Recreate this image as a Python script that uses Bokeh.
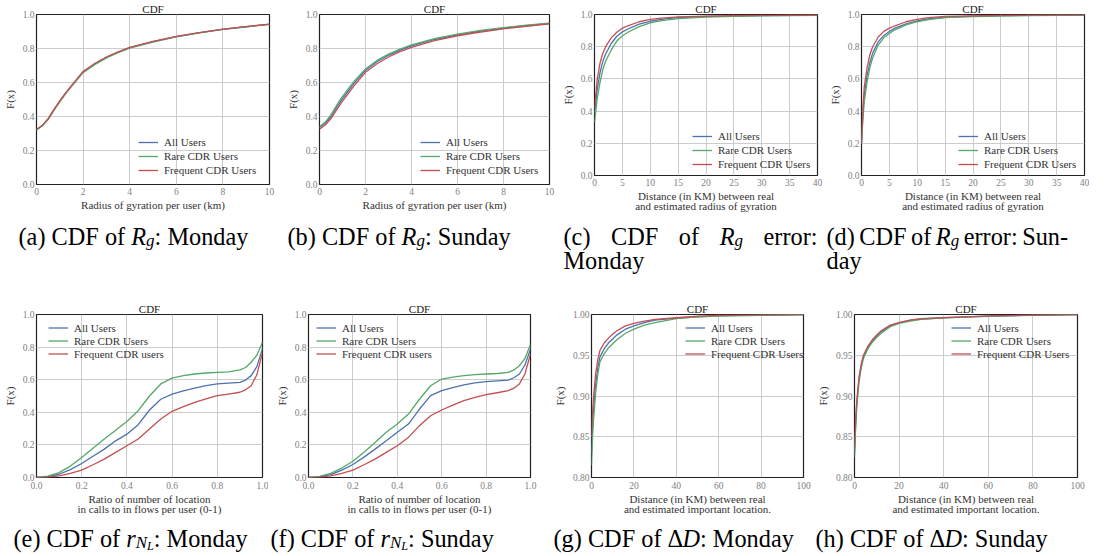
from bokeh.plotting import figure
from bokeh.models import Range1d, FixedTicker, PrintfTickFormatter, Legend, LegendItem
from bokeh.layouts import column, row
from bokeh.core.properties import value
from bokeh.embed import file_html
from bokeh.resources import INLINE

# ---------------- data ----------------
series_names = ["All Users", "Rare CDR Users", "Frequent CDR Users"]
series_names_ratio = ["All Users", "Rare CDR Users", "Frequent CDR users"]

rg_x = [0, 0.25, 0.5, 0.75, 1, 1.25, 1.5, 2, 2.5, 3, 3.5, 4, 5, 6, 7, 8, 9, 10]
rg_mon_all = [0.322, 0.347, 0.385, 0.44, 0.49, 0.537, 0.58, 0.663, 0.71, 0.748, 0.778, 0.805, 0.84, 0.87, 0.893, 0.913, 0.928, 0.942]
rg_mon_rare = [0.321, 0.345, 0.382, 0.436, 0.486, 0.533, 0.576, 0.658, 0.705, 0.744, 0.775, 0.802, 0.838, 0.868, 0.892, 0.912, 0.928, 0.942]
rg_mon_freq = [0.323, 0.348, 0.387, 0.442, 0.492, 0.539, 0.582, 0.665, 0.712, 0.75, 0.78, 0.807, 0.842, 0.871, 0.894, 0.914, 0.929, 0.943]
rg_sun_all = [0.335, 0.36, 0.40, 0.455, 0.505, 0.55, 0.595, 0.672, 0.722, 0.76, 0.79, 0.815, 0.853, 0.88, 0.902, 0.92, 0.935, 0.947]
rg_sun_rare = [0.34, 0.367, 0.41, 0.467, 0.518, 0.563, 0.606, 0.68, 0.73, 0.767, 0.797, 0.822, 0.858, 0.885, 0.906, 0.923, 0.937, 0.949]
rg_sun_freq = [0.325, 0.35, 0.388, 0.44, 0.49, 0.535, 0.58, 0.66, 0.71, 0.75, 0.782, 0.807, 0.846, 0.875, 0.897, 0.916, 0.931, 0.945]

err_x_mon = [0, 0.5, 1, 1.5, 2, 3, 4, 5, 6, 8, 10, 12, 15, 20, 25, 30, 40]
err_mon_all = [0.38, 0.54, 0.64, 0.71, 0.755, 0.82, 0.865, 0.892, 0.91, 0.94, 0.958, 0.97, 0.98, 0.988, 0.991, 0.993, 0.996]
err_mon_rare = [0.33, 0.48, 0.58, 0.66, 0.71, 0.78, 0.835, 0.868, 0.89, 0.925, 0.948, 0.962, 0.975, 0.984, 0.988, 0.991, 0.994]
err_mon_freq = [0.42, 0.60, 0.70, 0.76, 0.80, 0.855, 0.89, 0.915, 0.93, 0.955, 0.97, 0.978, 0.985, 0.99, 0.993, 0.995, 0.997]

err_x_sun = [0, 0.25, 0.5, 1, 1.5, 2, 3, 4, 5, 6, 8, 10, 12, 15, 20, 25, 30, 40]
err_sun_all = [0.2, 0.38, 0.5, 0.62, 0.70, 0.76, 0.83, 0.87, 0.895, 0.915, 0.942, 0.96, 0.972, 0.983, 0.99, 0.993, 0.995, 0.997]
err_sun_rare = [0.2, 0.35, 0.46, 0.58, 0.67, 0.73, 0.81, 0.855, 0.882, 0.905, 0.935, 0.955, 0.968, 0.98, 0.987, 0.99, 0.993, 0.996]
err_sun_freq = [0.2, 0.42, 0.55, 0.67, 0.75, 0.80, 0.86, 0.895, 0.915, 0.93, 0.955, 0.97, 0.98, 0.988, 0.992, 0.994, 0.996, 0.998]

ratio_x = [0, 0.05, 0.1, 0.15, 0.2, 0.25, 0.3, 0.35, 0.4, 0.45, 0.5, 0.55, 0.6, 0.65, 0.7, 0.75, 0.8, 0.85, 0.9, 0.925, 0.95, 0.975, 1.0]
ratio_mon_all = [0, 0.005, 0.02, 0.048, 0.086, 0.13, 0.174, 0.225, 0.266, 0.324, 0.414, 0.48, 0.512, 0.532, 0.549, 0.563, 0.574, 0.579, 0.584, 0.598, 0.625, 0.68, 0.79]
ratio_mon_rare = [0, 0.008, 0.03, 0.07, 0.123, 0.18, 0.236, 0.29, 0.344, 0.41, 0.50, 0.574, 0.61, 0.625, 0.635, 0.641, 0.645, 0.648, 0.66, 0.675, 0.707, 0.75, 0.83]
ratio_mon_freq = [0, 0.002, 0.01, 0.025, 0.045, 0.078, 0.113, 0.154, 0.195, 0.236, 0.297, 0.359, 0.406, 0.435, 0.461, 0.483, 0.502, 0.512, 0.523, 0.538, 0.563, 0.63, 0.768]
ratio_sun_all = [0, 0.005, 0.018, 0.045, 0.08, 0.125, 0.174, 0.225, 0.277, 0.328, 0.42, 0.502, 0.533, 0.552, 0.568, 0.58, 0.588, 0.593, 0.598, 0.612, 0.635, 0.69, 0.789]
ratio_sun_rare = [0, 0.007, 0.025, 0.058, 0.10, 0.155, 0.215, 0.277, 0.328, 0.389, 0.48, 0.563, 0.604, 0.616, 0.625, 0.631, 0.635, 0.638, 0.645, 0.66, 0.686, 0.73, 0.816]
ratio_sun_freq = [0, 0.002, 0.01, 0.025, 0.045, 0.078, 0.113, 0.154, 0.195, 0.246, 0.318, 0.379, 0.414, 0.444, 0.471, 0.492, 0.508, 0.52, 0.533, 0.548, 0.574, 0.635, 0.758]

dd_x = [0, 0.5, 1, 2, 3, 4, 6, 8, 10, 12, 16, 20, 25, 30, 40, 50, 60, 80, 100]
dd_mon_all = [0.83, 0.862, 0.885, 0.915, 0.935, 0.948, 0.958, 0.965, 0.970, 0.975, 0.982, 0.986, 0.990, 0.993, 0.9955, 0.997, 0.9985, 0.9993, 1.0]
dd_mon_rare = [0.815, 0.85, 0.872, 0.905, 0.927, 0.942, 0.952, 0.959, 0.964, 0.969, 0.977, 0.982, 0.987, 0.990, 0.995, 0.997, 0.998, 0.999, 1.0]
dd_mon_freq = [0.85, 0.88, 0.90, 0.928, 0.945, 0.956, 0.965, 0.971, 0.976, 0.980, 0.986, 0.989, 0.992, 0.994, 0.996, 0.998, 0.999, 0.9995, 1.0]
dd_sun_all = [0.83, 0.865, 0.89, 0.92, 0.937, 0.948, 0.96, 0.968, 0.974, 0.979, 0.986, 0.99, 0.993, 0.9945, 0.996, 0.997, 0.998, 0.9992, 1.0]
dd_sun_rare = [0.825, 0.86, 0.886, 0.917, 0.934, 0.946, 0.958, 0.966, 0.972, 0.977, 0.985, 0.989, 0.992, 0.994, 0.9958, 0.9968, 0.9978, 0.999, 1.0]
dd_sun_freq = [0.835, 0.87, 0.893, 0.923, 0.939, 0.95, 0.961, 0.969, 0.975, 0.98, 0.987, 0.99, 0.993, 0.995, 0.9962, 0.9972, 0.9982, 0.9993, 1.0]

ticks_rg_x = [0, 2, 4, 6, 8, 10]
ticks_err_x = [0, 5, 10, 15, 20, 25, 30, 35, 40]
ticks_ratio_x = [0.0, 0.2, 0.4, 0.6, 0.8, 1.0]
ticks_dd_x = [0, 20, 40, 60, 80, 100]
ticks_unit_y = [0.0, 0.2, 0.4, 0.6, 0.8, 1.0]
ticks_dd_y = [0.80, 0.85, 0.90, 0.95, 1.00]

plot_title = "CDF"
label_rg = "Radius of gyration per user (km)"
label_err = "Distance (in KM) between real\nand estimated radius of gyration"
label_ratio = "Ratio of number of location\nin calls to in flows per user (0-1)"
label_dd = "Distance (in KM) between real\nand estimated important location."

# ---------------- style ----------------
SERIF = "Liberation Serif"
COLORS = ["#4C72B0", "#55A868", "#C44E52"]
CAP_FS = 24.3

# Times / Liberation Serif advance widths (1/1000 em)
W_REG = {' ': 250, '(': 333, ')': 333, '-': 333, ':': 278, 'a': 444, 'b': 500, 'c': 444, 'd': 500,
         'e': 444, 'f': 333, 'g': 500, 'h': 500, 'i': 278, 'l': 278, 'm': 778, 'n': 500, 'o': 500,
         'r': 333, 's': 389, 't': 278, 'u': 500, 'y': 500, 'C': 667, 'D': 722, 'F': 556, 'M': 889,
         'S': 556, 'R': 667, 'N': 722, 'L': 611, '\u0394': 613}
W_IT = {'R': 611, 'g': 500, 'r': 389, 'N': 667, 'L': 556, 'D': 722}


def tw(s, italic, size):
    tbl = W_IT if italic else W_REG
    return sum(tbl.get(ch, W_REG.get(ch, 500)) for ch in s) / 1000.0 * size


def put(p, x, y, text, italic, size):
    p.text(x=[x], y=[y], text=[text], text_font=value(SERIF), text_font_size=value(f"{size:.1f}px"),
           text_font_style=value("italic" if italic else "normal"), text_color="black",
           text_align=value("left"), text_baseline=value("alphabetic"))


def N(t):
    return (t, False, 1.0, 0)


def I(t):
    return (t, True, 1.0, 0)


def SUB(t):
    return (t, True, 0.7, 4)


def SUBSUB(t):
    return (t, True, 0.5, 7.5)


def caption_line(p, x0, y0, words, target=None, gap=None):
    fs = CAP_FS
    widths = [sum(tw(s[0], s[1], fs * s[2]) for s in w) for w in words]
    if target is not None or gap is not None:
        if gap is None:
            gap = (target - sum(widths)) / (len(words) - 1)
        x = x0
        for w, wd in zip(words, widths):
            xx = x
            for (t, it, sc, dy) in w:
                put(p, xx, y0 + dy, t, it, fs * sc)
                xx += tw(t, it, fs * sc)
            x += wd + gap
        return
    flat = []
    for i, w in enumerate(words):
        if i > 0:
            flat.append(N(" "))
        flat.extend(w)
    merged = []
    for s in flat:
        if merged and not s[1] and s[2] == 1.0 and s[3] == 0 and not merged[-1][1] \
                and merged[-1][2] == 1.0 and merged[-1][3] == 0:
            merged[-1] = (merged[-1][0] + s[0], False, 1.0, 0)
        else:
            merged.append(s)
    x = x0
    for (t, it, sc, dy) in merged:
        size = fs * sc
        core = t.strip(' ')
        if not core:
            x += tw(t, it, size)
            continue
        lead = t[:len(t) - len(t.lstrip(' '))]
        trail = t[len(t.rstrip(' ')):]
        x += tw(lead, it, size)
        put(p, x, y0 + dy, core, it, size)
        x += tw(core, it, size) + tw(trail, it, size)


def caption_fig(width, height):
    p = figure(width=width, height=height, output_backend="svg", toolbar_location=None,
               x_range=Range1d(0, width), y_range=Range1d(height, 0),
               x_axis_type=None, y_axis_type=None, min_border=0,
               min_border_left=0, min_border_right=0, min_border_top=0, min_border_bottom=0)
    p.outline_line_color = None
    p.grid.visible = False
    return p


def panel(width, height, borders, xticks, yticks, xfmt, yfmt, xlabel, xs, ys, names,
          leg_xy, leg_row, xstand):
    bl, br, bt, bb = borders
    p = figure(width=width, height=height, output_backend="svg", toolbar_location=None,
               x_range=Range1d(xticks[0], xticks[-1]), y_range=Range1d(yticks[0], yticks[-1]),
               min_border_left=bl, min_border_right=br, min_border_top=bt, min_border_bottom=bb,
               background_fill_color="white", border_fill_color="white", title=plot_title)
    p.title.align = "center"
    p.title.text_font = SERIF
    p.title.text_font_size = "11px"
    p.title.text_font_style = "normal"
    p.title.text_color = "#222222"
    p.title.standoff = 0
    p.title.offset = 0
    p.outline_line_color = "#222222"
    p.outline_line_width = 1.2
    for ax in (p.xaxis[0], p.yaxis[0]):
        ax.axis_line_color = None
        ax.major_tick_in = 0
        ax.major_tick_out = 0
        ax.minor_tick_in = 0
        ax.minor_tick_out = 0
        ax.major_label_text_font = SERIF
        ax.major_label_text_font_size = "9.5px"
        ax.major_label_text_color = "#7f7f7f"
        ax.axis_label_text_font = SERIF
        ax.axis_label_text_font_size = "11px"
        ax.axis_label_text_font_style = "normal"
        ax.axis_label_text_color = "#333333"
        ax.axis_label_text_line_height = 0.9
    p.xaxis[0].axis_label_standoff = 1
    p.yaxis[0].axis_label_standoff = 4
    p.xaxis[0].major_label_standoff = xstand
    p.yaxis[0].major_label_standoff = 2
    p.xaxis[0].ticker = FixedTicker(ticks=xticks)
    p.yaxis[0].ticker = FixedTicker(ticks=yticks)
    p.xaxis[0].formatter = PrintfTickFormatter(format=xfmt)
    p.yaxis[0].formatter = PrintfTickFormatter(format=yfmt)
    p.xaxis[0].axis_label = xlabel
    p.yaxis[0].axis_label = "F(x)"
    p.xgrid.ticker = FixedTicker(ticks=xticks)
    p.ygrid.ticker = FixedTicker(ticks=yticks)
    for g in (p.xgrid[0], p.ygrid[0]):
        g.grid_line_color = "#cccccc"
        g.grid_line_width = 1

    rs = []
    for y, c in zip(ys, COLORS):
        rs.append(p.line(xs, y, line_color=c, line_width=1.3, line_join="round"))
    items = [LegendItem(label=n, renderers=[r]) for n, r in zip(names, rs)]
    leg = Legend(items=items, location=leg_xy, orientation="vertical", glyph_width=20,
                 glyph_height=leg_row, label_height=leg_row, label_standoff=6, spacing=0,
                 padding=0, margin=0, border_line_color=None, background_fill_alpha=0,
                 label_text_font=SERIF, label_text_font_size="11px", label_text_color="#333333",
                 label_text_baseline="middle")
    p.add_layout(leg)
    return p


# row 1: y 0..222 ; captions 222..276 ; row 2: 276..522 ; captions 522..556
pa = panel(283, 222, (35, 14, 13, 38), ticks_rg_x, ticks_unit_y, "%d", "%.1f", label_rg, rg_x,
           [rg_mon_all, rg_mon_rare, rg_mon_freq], series_names, (102, 7), 14, 3)
pb = panel(275, 222, (33, 9, 13, 38), ticks_rg_x, ticks_unit_y, "%d", "%.1f", label_rg, rg_x,
           [rg_sun_all, rg_sun_rare, rg_sun_freq], series_names, (101, 7), 14, 3)
pc = panel(265, 222, (36, 6, 13, 47), ticks_err_x, ticks_unit_y, "%d", "%.1f", label_err, err_x_mon,
           [err_mon_all, err_mon_rare, err_mon_freq], series_names, (98, 4), 14, 3)
pd = panel(282, 222, (38, 21, 13, 47), ticks_err_x, ticks_unit_y, "%d", "%.1f", label_err, err_x_sun,
           [err_sun_all, err_sun_rare, err_sun_freq], series_names, (97, 4), 14, 3)
pe = panel(268, 246, (35, 6, 38, 45), ticks_ratio_x, ticks_unit_y, "%.1f", "%.1f", label_ratio, ratio_x,
           [ratio_mon_all, ratio_mon_rare, ratio_mon_freq], series_names_ratio, (12, 117), 13, 4)
pf = panel(282, 246, (40, 20, 38, 45), ticks_ratio_x, ticks_unit_y, "%.1f", "%.1f", label_ratio, ratio_x,
           [ratio_sun_all, ratio_sun_rare, ratio_sun_freq], series_names_ratio, (8, 117), 13, 4)
pg = panel(262, 246, (31, 9, 38, 45), ticks_dd_x, ticks_dd_y, "%d", "%.2f", label_dd, dd_x,
           [dd_mon_all, dd_mon_rare, dd_mon_freq], series_names, (94, 117), 13, 4)
ph = panel(293, 246, (42, 28, 38, 45), ticks_dd_x, ticks_dd_y, "%d", "%.2f", label_dd, dd_x,
           [dd_sun_all, dd_sun_rare, dd_sun_freq], series_names, (97, 117), 13, 4)

# ---------------- captions ----------------
cap1 = caption_fig(1105, 54)
caption_line(cap1, 18, 13.5, [[N("(a)")], [N("CDF")], [N("of")], [I("R"), SUB("g"), N(":")], [N("Monday")]])
caption_line(cap1, 287, 13.5, [[N("(b)")], [N("CDF")], [N("of")], [I("R"), SUB("g"), N(":")], [N("Sunday")]])
caption_line(cap1, 563, 13.5, [[N("(c)")], [N("CDF")], [N("of")], [I("R"), SUB("g")], [N("error:")]], target=254)
caption_line(cap1, 563, 38, [[N("Monday")]])
caption_line(cap1, 826, 13.5, [[N("(d)")], [N("CDF")], [N("of")], [I("R"), SUB("g")], [N("error:")], [N("Sun-")]], gap=4.5)
caption_line(cap1, 826, 38, [[N("day")]])

cap2 = caption_fig(1105, 34)
caption_line(cap2, 13, 15.5, [[N("(e)")], [N("CDF")], [N("of")], [I("r"), SUB("N"), SUBSUB("L"), N(":")], [N("Monday")]])
caption_line(cap2, 270, 15.5, [[N("(f)")], [N("CDF")], [N("of")], [I("r"), SUB("N"), SUBSUB("L"), N(":")], [N("Sunday")]])
caption_line(cap2, 553, 15.5, [[N("(g)")], [N("CDF")], [N("of")], [N("\u0394"), I("D"), N(":")], [N("Monday")]])
caption_line(cap2, 815, 15.5, [[N("(h)")], [N("CDF")], [N("of")], [N("\u0394"), I("D"), N(":")], [N("Sunday")]])

layout = column(
    row(column(pa), column(pb), column(pc), column(pd)),
    cap1,
    row(column(pe), column(pf), column(pg), column(ph)),
    cap2,
)
open("out.html", "w").write(file_html(layout, INLINE))
